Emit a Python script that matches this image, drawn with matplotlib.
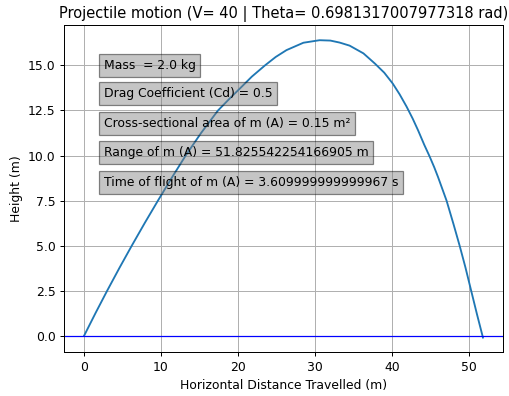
import numpy as np
import matplotlib
matplotlib.use("Agg")
import matplotlib.pyplot as plt

# trajectory samples (m)
x_pos = [0.0, 1.5, 3.0, 4.6, 6.2, 7.9, 9.6, 11.4, 13.2, 15.2, 17.4, 19.0,
         20.2, 21.8, 23.5, 24.9, 26.3, 28.5, 30.6, 32.0, 33.2, 34.5, 36.3,
         37.8, 39.0, 40.1, 41.0, 41.9, 42.7, 43.4, 44.2, 44.9, 45.5, 46.0,
         47.1, 48.0, 48.8, 49.55, 50.3, 51.05, 51.83]
y_pos = [0.0, 1.27, 2.5, 3.77, 5.0, 6.27, 7.5, 8.77, 10.0, 11.25, 12.5, 13.2,
         13.7, 14.38, 15.0, 15.47, 15.85, 16.26, 16.4, 16.38, 16.27, 16.1,
         15.67, 15.1, 14.6, 14.0, 13.4, 12.72, 12.05, 11.4, 10.6, 9.95, 9.35,
         8.8, 7.5, 6.2, 5.0, 3.8, 2.5, 1.2, -0.1]

v0 = 40
theta = 0.6981317007977318
mass = 2.0
cd = 0.5
area = 0.15
rng = 51.825542254166905
t_flight = "3.609999999999967"

info_lines = [
    f"Mass  = {mass} kg",
    f"Drag Coefficient (Cd) = {cd}",
    f"Cross-sectional area of m (A) = {area} m²",
    f"Range of m (A) = {rng} m",
    f"Time of flight of m (A) = {t_flight} s",
]
info_y = [0.877, 0.791, 0.699, 0.610, 0.519]

fig, ax = plt.subplots(figsize=(509 / 89, 396 / 89), dpi=89)
fig.subplots_adjust(left=0.126, right=0.988, top=0.936, bottom=0.11)

ax.plot(x_pos, y_pos)
ax.axhline(0, color='blue', linewidth=1)

for txt, yy in zip(info_lines, info_y):
    ax.text(0.09, yy, txt, transform=ax.transAxes, fontsize=10, va='center',
            bbox=dict(facecolor='grey', alpha=0.45))

ax.set_title(f"Projectile motion (V= {v0} | Theta= {theta} rad)", fontsize=11.8)
ax.set_xlabel("Horizontal Distance Travelled (m)")
ax.set_ylabel("Height (m)")
ax.grid(True)

fig.savefig("out.png")
